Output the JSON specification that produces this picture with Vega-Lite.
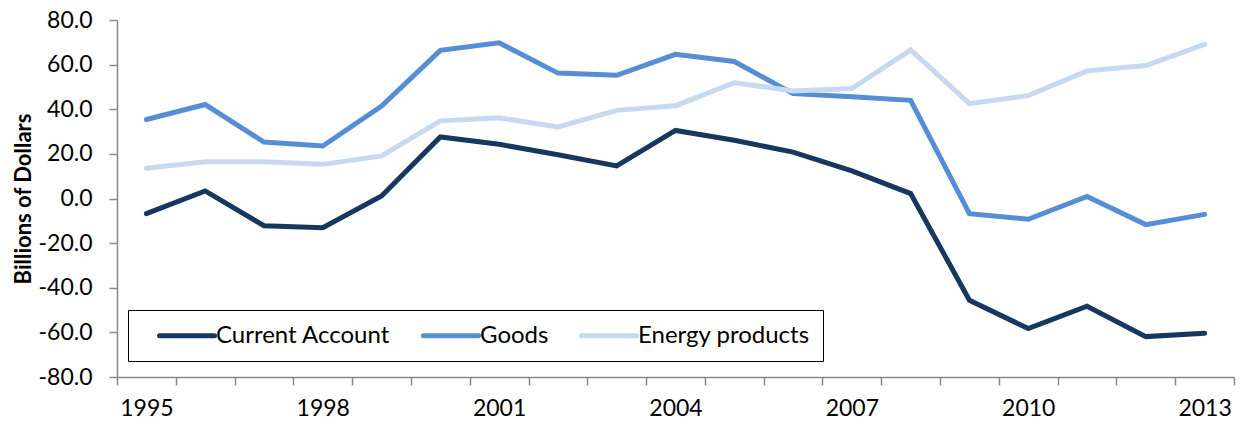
{
  "$schema": "https://vega.github.io/schema/vega-lite/v6.json",
  "width": 1117,
  "height": 357,
  "autosize": {"type": "none"},
  "padding": {"left": 117, "top": 20, "right": 8, "bottom": 47},
  "background": "white",
  "config": {"view": {"stroke": null}, "font": "Lato"},
  "data": {
    "values": [
      {"year": 1995, "series": "Current Account", "value": -6.8},
      {"year": 1996, "series": "Current Account", "value": 3.4},
      {"year": 1997, "series": "Current Account", "value": -12.2},
      {"year": 1998, "series": "Current Account", "value": -13.1},
      {"year": 1999, "series": "Current Account", "value": 1.1},
      {"year": 2000, "series": "Current Account", "value": 27.6},
      {"year": 2001, "series": "Current Account", "value": 24.3},
      {"year": 2002, "series": "Current Account", "value": 19.6},
      {"year": 2003, "series": "Current Account", "value": 14.6},
      {"year": 2004, "series": "Current Account", "value": 30.5},
      {"year": 2005, "series": "Current Account", "value": 26.1},
      {"year": 2006, "series": "Current Account", "value": 20.8},
      {"year": 2007, "series": "Current Account", "value": 12.4},
      {"year": 2008, "series": "Current Account", "value": 2.2},
      {"year": 2009, "series": "Current Account", "value": -45.6},
      {"year": 2010, "series": "Current Account", "value": -58.3},
      {"year": 2011, "series": "Current Account", "value": -48.3},
      {"year": 2012, "series": "Current Account", "value": -61.9},
      {"year": 2013, "series": "Current Account", "value": -60.4},
      {"year": 1995, "series": "Goods", "value": 35.4},
      {"year": 1996, "series": "Goods", "value": 42.1},
      {"year": 1997, "series": "Goods", "value": 25.3},
      {"year": 1998, "series": "Goods", "value": 23.5},
      {"year": 1999, "series": "Goods", "value": 41.4},
      {"year": 2000, "series": "Goods", "value": 66.4},
      {"year": 2001, "series": "Goods", "value": 69.8},
      {"year": 2002, "series": "Goods", "value": 56.2},
      {"year": 2003, "series": "Goods", "value": 55.2},
      {"year": 2004, "series": "Goods", "value": 64.6},
      {"year": 2005, "series": "Goods", "value": 61.4},
      {"year": 2006, "series": "Goods", "value": 47.0},
      {"year": 2007, "series": "Goods", "value": 45.6},
      {"year": 2008, "series": "Goods", "value": 44.0},
      {"year": 2009, "series": "Goods", "value": -6.8},
      {"year": 2010, "series": "Goods", "value": -9.3},
      {"year": 2011, "series": "Goods", "value": 0.9},
      {"year": 2012, "series": "Goods", "value": -11.7},
      {"year": 2013, "series": "Goods", "value": -7.1},
      {"year": 1995, "series": "Energy products", "value": 13.6},
      {"year": 1996, "series": "Energy products", "value": 16.5},
      {"year": 1997, "series": "Energy products", "value": 16.5},
      {"year": 1998, "series": "Energy products", "value": 15.3},
      {"year": 1999, "series": "Energy products", "value": 19.1},
      {"year": 2000, "series": "Energy products", "value": 34.8},
      {"year": 2001, "series": "Energy products", "value": 36.2},
      {"year": 2002, "series": "Energy products", "value": 32.1},
      {"year": 2003, "series": "Energy products", "value": 39.5},
      {"year": 2004, "series": "Energy products", "value": 41.6},
      {"year": 2005, "series": "Energy products", "value": 51.9},
      {"year": 2006, "series": "Energy products", "value": 48.2},
      {"year": 2007, "series": "Energy products", "value": 49.3},
      {"year": 2008, "series": "Energy products", "value": 66.6},
      {"year": 2009, "series": "Energy products", "value": 42.5},
      {"year": 2010, "series": "Energy products", "value": 46.1},
      {"year": 2011, "series": "Energy products", "value": 57.2},
      {"year": 2012, "series": "Energy products", "value": 59.6},
      {"year": 2013, "series": "Energy products", "value": 69.1}
    ]
  },
  "layer": [
    {
      "mark": {"type": "line", "strokeWidth": 5, "strokeCap": "round"},
      "encoding": {
        "x": {
          "field": "year",
          "type": "quantitative",
          "scale": {"domain": [1994.5, 2013.5], "nice": false, "zero": false},
          "axis": {
            "values": [1994.5, 1995.5, 1996.5, 1997.5, 1998.5, 1999.5, 2000.5, 2001.5, 2002.5, 2003.5, 2004.5, 2005.5, 2006.5, 2007.5, 2008.5, 2009.5, 2010.5, 2011.5, 2012.5, 2013.5],
            "labels": false,
            "title": null,
            "grid": false,
            "orient": "bottom",
            "domainColor": "#898989",
            "tickColor": "#898989",
            "domainWidth": 1.5,
            "tickWidth": 1.5,
            "tickSize": 8
          }
        },
        "y": {
          "field": "value",
          "type": "quantitative",
          "scale": {"domain": [-80, 80], "nice": false},
          "axis": {
            "values": [-80, -60, -40, -20, 0, 20, 40, 60, 80],
            "labelExpr": "replace(format(datum.value, '.1f'), '\u2212', '-')",
            "grid": false,
            "title": "Billions of Dollars",
            "titleFontSize": 22,
            "titleFontWeight": "bold",
            "titleColor": "black",
            "titlePadding": 3,
            "labelFontSize": 23,
            "labelColor": "black",
            "labelPadding": 17,
            "domainColor": "#898989",
            "tickColor": "#898989",
            "domainWidth": 1.5,
            "tickWidth": 1.5,
            "tickSize": 8
          }
        },
        "color": {
          "field": "series",
          "type": "nominal",
          "scale": {
            "domain": ["Current Account", "Goods", "Energy products"],
            "range": ["#17375E", "#558ED5", "#C6D9F1"]
          },
          "legend": {
            "orient": "none",
            "legendX": 11,
            "legendY": 290,
            "direction": "horizontal",
            "title": null,
            "symbolType": "M-1,0H4.5",
            "symbolSize": 400,
            "symbolStrokeWidth": 5,
            "labelFontSize": 24,
            "labelColor": "black",
            "labelOffset": 34,
            "labelLimit": 400,
            "strokeColor": "black",
            "fillColor": "white",
            "padding": 13,
            "symbolOffset": 16,
            "columnPadding": 14,
            "encode": {"symbols": {"update": {"strokeCap": {"value": "round"}}}}
          }
        }
      }
    },
    {
      "mark": {"type": "point", "opacity": 0},
      "encoding": {
        "x": {
          "field": "year",
          "type": "quantitative",
          "axis": {
            "values": [1995, 1998, 2001, 2004, 2007, 2010, 2013],
            "format": "d",
            "orient": "bottom",
            "ticks": false,
            "domain": false,
            "grid": false,
            "title": null,
            "labelFontSize": 23,
            "labelColor": "black",
            "labelPadding": 20
          }
        }
      }
    }
  ],
  "resolve": {"axis": {"x": "independent"}}
}
